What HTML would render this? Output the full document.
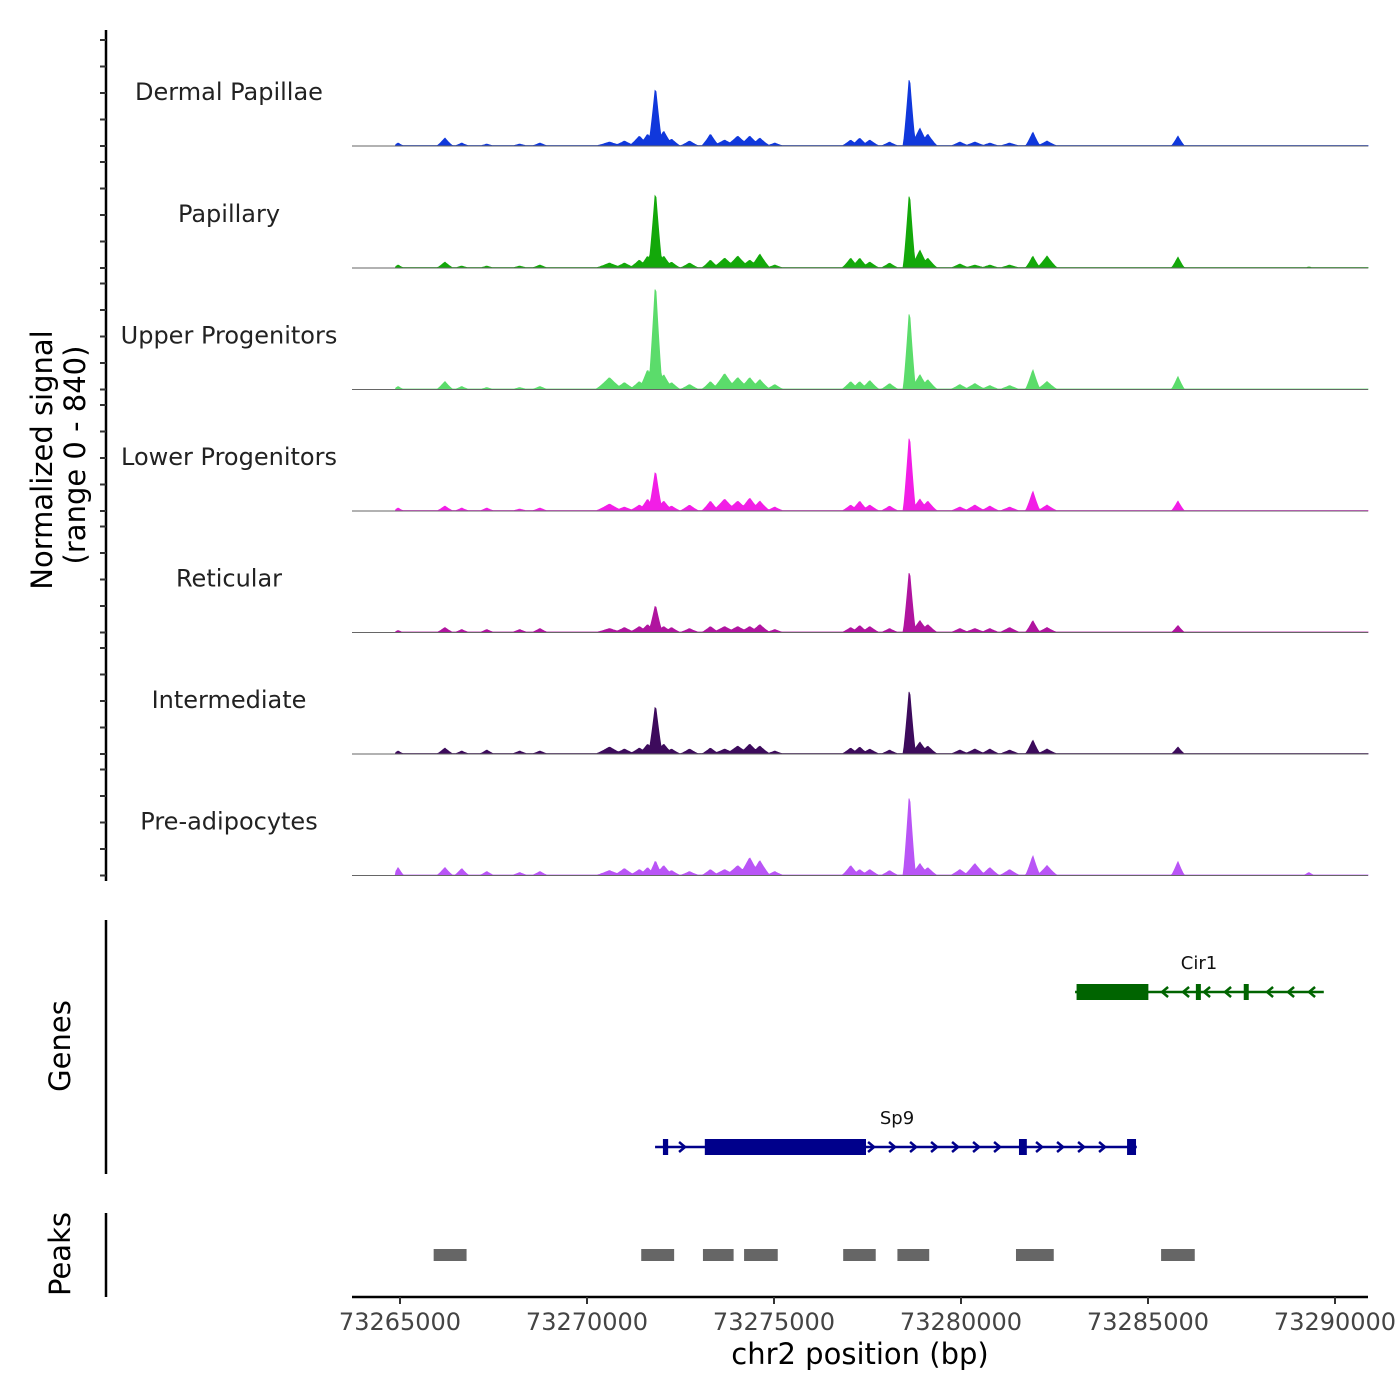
<!DOCTYPE html>
<html><head><meta charset="utf-8"><style>
html,body{margin:0;padding:0;background:#fff;}
svg{display:block;font-family:"DejaVu Sans","Liberation Sans",sans-serif;}
</style></head><body>
<svg id="chart" width="1400" height="1400" viewBox="0 0 1400 1400" xmlns="http://www.w3.org/2000/svg">
<g id="left"></g><g id="tracks"></g><g id="genes"></g><g id="peaks"></g><g id="xaxis"></g>
</svg>
<script>
// ---- data ----
const trackNames = ["Dermal Papillae","Papillary","Upper Progenitors","Lower Progenitors","Reticular","Intermediate","Pre-adipocytes"];
const trackColors = ["#1038dc","#13a80a","#5bdc6b","#f21ee6","#b0149f","#3d0b5c","#b955f6"];
const yMax = 840;
// peak centers (bp) and half widths (bp)
const peakPos = [73264950,73266200,73266650,73267320,73268200,73268740,73270600,73271000,73271400,73271620,73271830,73272050,73272260,73272740,73273300,73273680,73274030,73274350,73274620,73275020,73277050,73277290,73277560,73278090,73278620,73278900,73279110,73279970,73280370,73280770,73281300,73281920,73282300,73285800,73289300];
const peakHalf = [150,220,200,200,220,220,380,300,280,240,190,260,240,260,240,340,340,300,280,240,240,240,260,240,170,260,260,260,300,260,280,200,280,180,150];
const sigDermal   = [21,56,21,14,14,21,28,35,70,84,420,105,49,35,84,42,70,70,56,21,42,56,42,28,497,126,84,28,28,21,21,98,35,70,0];
const sigPapillary= [21,42,14,14,14,21,35,35,56,84,546,84,42,35,56,70,84,56,98,21,70,70,42,35,539,126,70,28,21,21,21,84,84,77,7];
const sigUpper    = [21,56,21,14,14,21,84,49,56,140,756,105,49,35,56,112,84,84,70,35,56,56,63,42,567,105,70,35,42,28,28,140,56,91,0];
const sigLower    = [21,35,21,21,14,21,49,28,42,84,287,70,35,42,70,84,70,91,70,28,42,70,42,35,546,84,70,28,42,35,28,140,42,70,0];
const sigReticular= [14,35,21,21,21,28,28,35,42,56,196,42,35,28,42,42,42,42,56,21,35,49,42,28,448,84,56,28,28,28,35,84,35,49,0];
const sigInterm   = [21,42,21,28,21,21,49,35,42,70,350,70,35,35,42,35,56,70,56,21,42,49,35,28,469,84,56,28,35,35,28,98,35,49,0];
const sigPreadipo = [56,56,49,28,21,28,35,49,42,56,105,70,35,28,42,42,70,126,105,28,70,42,42,35,581,84,56,42,84,56,42,140,70,98,21];
const signals = [sigDermal,sigPapillary,sigUpper,sigLower,sigReticular,sigInterm,sigPreadipo];
const xTicks = [73265000,73270000,73275000,73280000,73285000,73290000];
const peakStarts = [73265900,73271450,73273100,73274200,73276850,73278300,73281470,73285350];
const peakEnds   = [73266780,73272330,73273920,73275100,73277720,73279150,73282480,73286250];
const sp9Exons = [[73272030,73272170],[73273150,73277460],[73281550,73281760],[73284440,73284680]];
const sp9Span = [73271820,73284700];
const cir1Exons = [[73283090,73285010],[73286280,73286330],[73287560,73287610]];
const cir1Span = [73283050,73289700];

// ---- scales ----
const NS="http://www.w3.org/2000/svg";
const x0=73265000, px0=400, pxPerBp=935/25000;
function X(bp){return px0+(bp-x0)*pxPerBp;}
const baselines=[146,268,389.5,511,632.5,754,875.5];
const trackH=120;
function Y(v,b){return b-v/yMax*trackH;}
function mk(tag,attrs,parent,text){const e=document.createElementNS(NS,tag);for(const k in attrs)e.setAttribute(k,attrs[k]);if(text!==undefined)e.textContent=text;parent.appendChild(e);return e;}

const left=document.getElementById('left');
let a=mk('line',{x1:106,y1:30,x2:106,y2:881,stroke:'#000','stroke-width':2.5},left);


baselines.forEach(b=>{for(let k=0;k<5;k++){const yy=b-k*26.5;const t=mk('line',{x1:100,y1:yy,x2:106,y2:yy,stroke:'#333','stroke-width':2},left);

}});
let t1=mk('text',{x:0,y:0,'font-size':29,'text-anchor':'middle',transform:'translate(52,460) rotate(-90)'},left,'Normalized signal');


let t2=mk('text',{x:0,y:0,'font-size':29,'text-anchor':'middle',transform:'translate(85,455) rotate(-90)'},left,'(range 0 - 840)');


let g1=mk('line',{x1:106,y1:920,x2:106,y2:1174,stroke:'#000','stroke-width':2.5},left);


let g2=mk('text',{x:0,y:0,'font-size':29,'text-anchor':'middle',transform:'translate(70,1046) rotate(-90)'},left,'Genes');


let p1=mk('line',{x1:106,y1:1213,x2:106,y2:1297,stroke:'#000','stroke-width':2.5},left);


let p2=mk('text',{x:0,y:0,'font-size':29,'text-anchor':'middle',transform:'translate(70,1254) rotate(-90)'},left,'Peaks');



// tracks
const tg=document.getElementById('tracks');
const startPx=X(peakPos[0])-3, endPx=1368;
signals.forEach((vals,i)=>{
  const b=baselines[i];
  const lbl=mk('text',{x:229,y:b-46,'font-size':24,'text-anchor':'middle',fill:'#222'},tg,trackNames[i]);
  
  
  let d='M'+startPx+','+b;
  for(let px=Math.ceil(startPx);px<=endPx;px+=1){
    let v=yMax*0.004;
    for(let j=0;j<peakPos.length;j++){
      const dist=Math.abs(px-X(peakPos[j]))/(peakHalf[j]*pxPerBp);
      if(dist<1){const c=vals[j]*Math.pow(1-dist,1.2);if(c>v)v=c;}
    }
    d+=' L'+px+','+Y(v,b).toFixed(1);
  }
  d+=' L'+endPx+','+b+' Z';
  const p=mk('path',{d:d,fill:trackColors[i],stroke:trackColors[i],'stroke-width':0.8},tg);
  
  
  const bl=mk('line',{x1:352,y1:b,x2:1368,y2:b,stroke:'#666','stroke-width':1},tg);
  
  
});

// genes
const gg=document.getElementById('genes');
function gene(name,span,exons,y,color,dir,labelX){
  const l=mk('line',{x1:X(span[0]),y1:y,x2:X(span[1]),y2:y,stroke:color,'stroke-width':2.5},gg);
  
  
  exons.forEach(e=>{const w=Math.max(5,X(e[1])-X(e[0]));
    const r=mk('rect',{x:X(e[0]),y:y-8,width:w,height:16,fill:color},gg);
    
    });
  for(let px=X(span[0])+6;px<X(span[1])-2;px+=21){
    let inEx=exons.some(e=>px>X(e[0])-4&&px<X(e[1])+4); if(inEx)continue;
    const s=dir>0?`M${px-3},${y-5} L${px+3},${y} L${px-3},${y+5}`:`M${px+3},${y-5} L${px-3},${y} L${px+3},${y+5}`;
    const ar=mk('path',{d:s,fill:'none',stroke:color,'stroke-width':2.5},gg);
    
    
  }
  const tx=mk('text',{x:labelX,y:y-23,'font-size':18,'text-anchor':'middle',fill:'#111'},gg,name);
  
  
}
gene('Cir1',cir1Span,cir1Exons,992,'#006400',-1,1199);
gene('Sp9',sp9Span,sp9Exons,1147,'#00008b',1,897);

// peaks
const pg=document.getElementById('peaks');
peakStarts.forEach((s,i)=>{const r=mk('rect',{x:X(s),y:1249,width:X(peakEnds[i])-X(s),height:12,fill:'#666'},pg);

});

// x axis
const xg=document.getElementById('xaxis');
const ax=mk('line',{x1:352,y1:1297,x2:1368,y2:1297,stroke:'#000','stroke-width':2.5},xg);


xTicks.forEach(v=>{const t=mk('line',{x1:X(v),y1:1297,x2:X(v),y2:1304,stroke:'#333','stroke-width':2},xg);


const l=mk('text',{x:X(v),y:1330,'font-size':24,'text-anchor':'middle',fill:'#444'},xg,String(v));

});
const xt=mk('text',{x:860,y:1364,'font-size':29,'text-anchor':'middle',fill:'#000'},xg,'chr2 position (bp)');


</script>
</body></html>
